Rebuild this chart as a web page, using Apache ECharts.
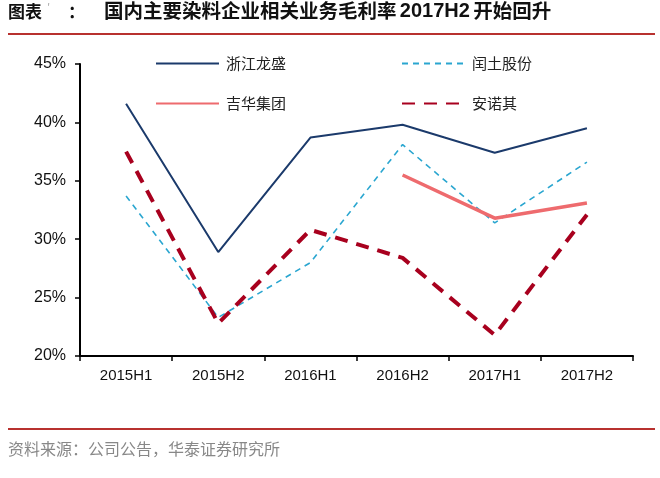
<!DOCTYPE html>
<html>
<head>
<meta charset="utf-8">
<script src="https://cdn.jsdelivr.net/npm/echarts@6/dist/echarts.min.js"></script>
<style>
  html, body { margin: 0; padding: 0; background: #fff; }
  #main { width: 660px; height: 478px; }
</style>
</head>
<body>
<div id="main"></div>
<script>
// 类目与数据（单位：%）
var periods = ['2015H1', '2015H2', '2016H1', '2016H2', '2017H1', '2017H2'];
var longsheng = [41.6, 28.9, 38.7, 39.8, 37.4, 39.5];   // 浙江龙盛
var runtu = [33.7, 23.3, 28.0, 38.1, 31.4, 36.6];       // 闰土股份
var jihua = [null, null, null, 35.5, 31.8, 33.1];       // 吉华集团
var anuoqi = [37.5, 22.8, 30.8, 28.4, 21.8, 32.1];      // 安诺其
var yTicks = [20, 25, 30, 35, 40, 45];

var Chart = echarts.init(document.getElementById('main'));

var cnFont = '"Noto Sans CJK SC", sans-serif';
var numFont = '"Liberation Sans", Arial, sans-serif';

function legendAt(name, left, top) {
  return {
    data: [name],
    left: left,
    top: top,
    itemWidth: 63,
    itemHeight: 14,
    itemGap: 0,
    itemStyle: { opacity: 0, borderWidth: 0 },
    textStyle: { fontFamily: cnFont, fontSize: 15, color: '#222', padding: [0, 0, 0, 2] }
  };
}

var option = {
  animation: false,
  graphic: [
    {
      type: 'text', left: 8, top: 3,
      style: { text: '图表', font: 'bold 17px "Noto Sans CJK SC"', fill: '#111' }
    },
    {
      type: 'text', left: 47, top: 2,
      style: { text: '′', font: '11px "Noto Sans CJK SC"', fill: '#aaa' }
    },
    {
      type: 'text', left: 68, top: 3,
      style: { text: '：', font: 'bold 17px "Noto Sans CJK SC"', fill: '#111' }
    },
    {
      type: 'text', left: 104, top: 1,
      style: {
        text: '{a|国内主要染料企业相关业务毛利率} {b|2017H2} {a|开始回升}',
        rich: {
          a: { fontFamily: cnFont, fontSize: 19.5, fontWeight: 'bold', fill: '#111', color: '#111' },
          b: { fontFamily: numFont, fontSize: 20, fontWeight: 'bold', fill: '#111', color: '#111' }
        }
      }
    },
    { type: 'line', shape: { x1: 8, y1: 34, x2: 655, y2: 34 }, style: { stroke: '#B8312F', lineWidth: 2 } },
    { type: 'line', shape: { x1: 8, y1: 429, x2: 655, y2: 429 }, style: { stroke: '#B8312F', lineWidth: 2 } },
    {
      type: 'text', left: 8, top: 441,
      style: { text: '资料来源：公司公告，华泰证券研究所', font: '16px "Noto Sans CJK SC"', fill: '#888' }
    }
  ],
  legend: [
    legendAt('浙江龙盛', 150, 51),
    legendAt('闰土股份', 396, 51),
    legendAt('吉华集团', 150, 91),
    legendAt('安诺其', 396, 91)
  ],
  grid: { left: 80, right: 27, top: 64, bottom: 122 },
  xAxis: {
    type: 'category',
    data: periods,
    boundaryGap: true,
    axisLine: { lineStyle: { color: '#000', width: 2 } },
    axisTick: { show: true, length: 5, lineStyle: { color: '#000', width: 1.5 } },
    axisLabel: { fontFamily: numFont, fontSize: 15, color: '#111', margin: 12 }
  },
  yAxis: {
    type: 'value',
    min: 20,
    max: 45,
    interval: 5,
    axisLine: { show: true, lineStyle: { color: '#000', width: 2 } },
    axisTick: { show: true, length: 5, lineStyle: { color: '#000', width: 1.5 } },
    splitLine: { show: false },
    axisLabel: {
      fontFamily: numFont, fontSize: 16, color: '#111', margin: 14,
      formatter: function (v) { return yTicks.indexOf(v) >= 0 ? v + '%' : ''; }
    }
  },
  series: [
    {
      name: '浙江龙盛', type: 'line', data: longsheng, symbol: 'none',
      lineStyle: { color: '#1B3A6B', width: 2 }, itemStyle: { color: '#1B3A6B' }
    },
    {
      name: '闰土股份', type: 'line', data: runtu, symbol: 'none',
      lineStyle: { color: '#2AA6D0', width: 1.6, type: [6, 5] }, itemStyle: { color: '#2AA6D0' }
    },
    {
      name: '吉华集团', type: 'line', data: jihua, symbol: 'none',
      lineStyle: { color: '#EE6B6E', width: 3.5 }, itemStyle: { color: '#EE6B6E' }
    },
    {
      name: '安诺其', type: 'line', data: anuoqi, symbol: 'none',
      lineStyle: { color: '#A8001E', width: 4, type: [13, 9] }, itemStyle: { color: '#A8001E' }
    }
  ]
};

Chart.setOption(option);
</script>
</body>
</html>
